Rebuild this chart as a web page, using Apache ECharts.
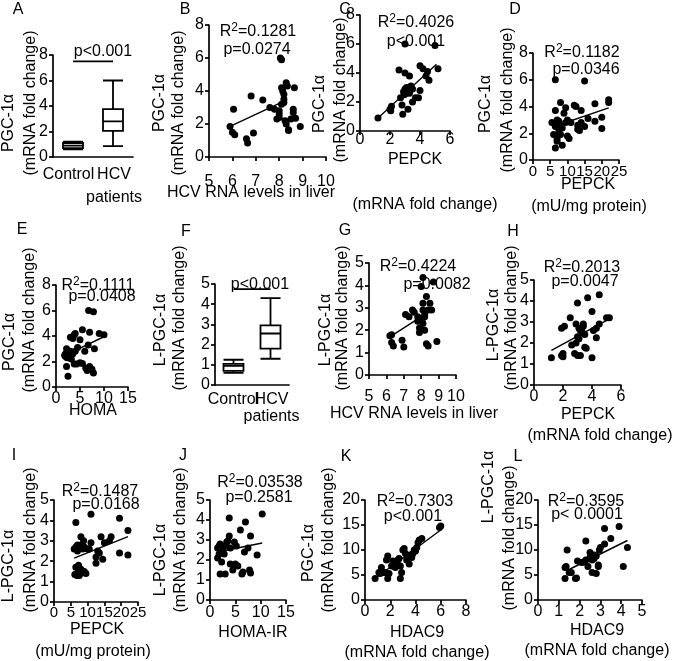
<!DOCTYPE html>
<html><head><meta charset="utf-8">
<script src="https://cdn.jsdelivr.net/npm/echarts@6/dist/echarts.min.js"></script>
<style>html,body{margin:0;padding:0;background:#fff}#c{width:675px;height:661px}</style>
</head><body><div id="c"></div>
<script>
// ---------------- data ----------------
const boxCategories = ['Control', 'HCV\npatients'];
const boxA = [[0.6, 0.7, 0.9, 1.1, 1.2], [0.85, 2.05, 2.8, 3.75, 6.0]];
const boxF = [[0.6, 0.7, 0.95, 1.05, 1.25], [1.3, 1.8, 2.55, 2.95, 4.3]];
const sigA = [7.5, 7.5];
const sigF = [4.75, 4.75];

const bX = [5.9,6.05,6.0,6.1,6.6,6.65,6.9,6.8,7.3,7.6,7.8,7.9,8.0,8.0,8.0,8.1,8.05,8.1,8.1,8.15,8.2,8.3,8.35,8.2,8.2,8.25,8.3,8.4,8.4,8.5,8.6,8.6,8.65,8.7,8.9];
const bY = [1.85,2.9,1.5,1.35,1.1,0.85,1.45,3.7,3.45,3.0,2.9,2.3,2.6,2.4,2.8,3.2,6.0,5.9,4.2,4.0,3.8,4.5,4.3,3.5,3.3,2.2,2.0,1.65,1.6,2.3,2.7,2.9,4.2,2.35,1.85];
const fitBX = [5.9, 8.3], fitBY = [1.85, 3.45];

const cX = [1.2,2.0,2.05,2.1,2.6,2.7,2.8,2.85,2.9,2.95,3.0,3.0,3.0,3.1,3.2,3.2,3.3,3.3,3.4,3.5,3.5,3.7,3.9,4.0,4.0,4.2,4.4,4.5,4.6,5.0,5.2,3.3,3.1];
const cY = [0.9,1.5,1.4,1.7,4.2,2.3,1.8,1.15,2.7,2.5,2.9,6.0,4.0,3.0,2.8,1.5,2.6,3.8,3.1,2.9,2.0,2.3,2.3,4.5,2.8,4.3,3.8,4.1,3.5,5.9,4.3,3.0,2.6];
const fitCX = [1.2, 5.1], fitCY = [0.9, 4.6];

const dX = [6.5,6.5,5.5,6,6.5,7,7,7,7.5,7.5,8,8,8,8.5,8.5,9,9.5,9.5,10,10,10.5,11,12,12.5,13,13,13.5,14,14,15,15,16,18,18,20,20,22,22,6.5,7.5];
const dY = [6.0,3.7,2.8,1.9,0.9,3.0,1.6,1.4,2.9,2.3,4.3,2.6,1.9,2.4,1.1,3.5,3.9,2.8,3.0,1.8,1.6,2.8,4.1,4.0,2.3,2.6,2.2,3.7,2.8,5.9,2.5,3.1,4.2,2.9,3.2,2.35,4.5,4.3,2.5,2.0];
const fitDX = [5.5, 22], fitDY = [2.45, 3.9];

const eX = [2,2,2.2,2.2,2.5,2.5,2.7,3,3,3,3.2,3.5,3.5,3.8,3.8,4,4,4.3,4.5,5,5,5.5,5.5,6,6.2,6.5,6.7,6.8,7,7,7.5,7.8,7.8,8,9,10,1.8,2.3,2.8];
const eY = [2.6,2.4,3.0,1.6,0.85,2.7,2.3,2.8,2.5,3.9,2.2,3.8,2.6,4.1,1.8,4.2,2.8,1.8,3.1,3.7,1.9,4.5,1.85,2.8,1.5,1.3,3.3,6.0,4.3,1.6,1.4,1.1,5.9,3.0,4.2,4.1,2.5,2.3,2.5];
const fitEX = [2, 10.3], fitEY = [2.5, 4.0];

const gX = [6.2,6.3,6.3,6.4,6.9,7.0,7.1,7.3,7.5,7.6,7.8,7.8,7.9,7.9,8.0,8.0,8.1,8.1,8.1,8.1,8.2,8.2,8.3,8.3,8.4,8.4,8.5,8.6,8.7,8.9,8.2,8.05];
const gY = [1.75,1.8,1.45,1.3,1.55,1.25,2.7,2.6,2.9,2.8,2.6,2.4,2.1,1.9,3.95,2.5,4.35,3.2,2.9,2.3,2.0,2.7,1.4,3.5,1.3,2.9,3.2,2.9,4.15,1.5,2.6,2.45];
const fitGX = [6.2, 8.7], fitGY = [1.7, 2.95];

const hX = [1.2,1.9,2.0,1.9,2.1,2.0,2.5,2.6,2.8,2.9,2.9,3.0,3.0,3.0,3.1,3.2,3.2,3.3,3.4,3.4,3.5,3.5,3.6,3.7,4.0,4.0,4.1,4.3,4.3,4.5,4.5,5.0,5.2,3.1,3.3];
const hY = [1.3,1.4,1.5,2.7,2.8,1.35,3.2,1.9,1.5,2.0,2.9,2.3,3.9,1.4,2.7,1.4,2.6,2.5,2.9,2.8,2.4,1.8,1.75,4.15,3.5,1.3,2.6,2.7,2.25,4.3,2.9,3.2,3.2,2.2,2.55];
const fitHX = [1.2, 5.2], fitHY = [1.65, 3.15];

const iX = [6,6.5,6.5,6.5,6.8,7,7,7,7.3,7.5,7.5,7.8,8,8,8,8.5,8.8,9,9.5,10,10.5,11,11,12.5,12.5,13,13.5,14,14.5,15,16.5,17,19.5,19.5,22,22,6.2,7.2,9];
const iY = [2.6,3.9,2.7,1.7,1.3,2.8,2.5,1.4,1.8,1.5,1.3,1.4,3.2,2.8,1.6,2.6,3.0,2.7,1.4,2.6,2.6,2.9,4.3,2.2,1.9,2.5,2.4,3.2,2.1,2.9,3.0,3.2,4.1,2.4,3.5,2.3,1.35,1.35,1.5];
const fitIX = [6, 22], fitIY = [2.15, 3.2];

const jX = [1.5,1.5,1.8,2,2,2,2.3,2.5,2.5,2.8,3,3,3.3,3.5,3.8,3.8,4,4,4.5,4.8,5,5.2,5.5,6,6.3,6.5,6.8,7,7.5,7.8,8,8,9.3,10.3,2.2,1.8];
const jY = [2.6,2.1,2.7,2.8,2.5,1.3,1.9,2.6,2.4,2.3,2.7,1.3,2.9,2.95,4.1,3.2,1.8,2.6,1.5,2.9,1.8,2.7,1.7,3.5,1.3,1.4,2.4,3.9,2.6,1.5,1.35,3.2,2.25,4.3,2.4,2.3];
const fitJX = [1.5, 10.3], fitJY = [2.4, 2.85];

const kX = [0.8,1.1,1.3,1.5,1.6,1.7,1.8,1.8,1.9,2.1,2.2,2.4,2.5,2.6,2.7,2.8,2.8,2.9,3.0,3.1,3.2,3.3,3.5,3.7,3.8,3.9,4.0,4.1,4.2,4.3,4.5,5.9,6.0,1.2,2.3,3.6];
const kY = [4.3,5.5,6.5,5.5,5.5,8.0,8.8,4.3,5.3,6.8,7.8,6.5,7.2,8.0,8.3,6.8,4.3,5.5,10.0,10.3,9.3,8.0,7.2,8.5,9.3,10.0,9.8,10.5,11.5,12.0,12.3,14.5,14.8,5.3,7.5,9.0];
const fitKX = [0.8, 6.0], fitKY = [4.3, 14.0];

const lX = [1.3,1.3,1.35,1.4,1.6,1.5,1.8,1.85,1.9,2.1,2.3,2.3,2.4,2.5,2.5,2.6,2.6,2.7,2.7,2.8,2.8,2.9,2.9,2.95,3.0,3.2,3.2,3.5,3.9,4.1,4.3,2.65,2.2];
const lY = [4.3,6.5,6.7,10.0,5.5,5.5,4.3,4.4,7.8,7.5,11.8,8.0,6.7,9.5,8.5,5.5,8.0,9.0,8.3,5.3,8.8,7.0,6.7,10.0,10.5,14.3,11.2,12.3,14.7,6.7,10.5,8.6,7.6];
const fitLX = [1.35, 4.3], fitLY = [5.8, 11.9];

// ---------------- layout ----------------
const FONT = "'Liberation Sans', Arial, Helvetica, sans-serif";
const BLACK = '#000';

const grids = [
  {left: 53, top: 55, width: 80, height: 102},   // A
  {left: 209, top: 25, width: 117, height: 132}, // B
  {left: 360, top: 15, width: 90, height: 116},  // C
  {left: 533, top: 53, width: 86, height: 107},  // D
  {left: 56, top: 285, width: 72, height: 102},  // E
  {left: 215, top: 284, width: 74, height: 101}, // F
  {left: 369, top: 263, width: 87, height: 112}, // G
  {left: 534, top: 280, width: 87, height: 105}, // H
  {left: 54, top: 500, width: 84, height: 102},  // I
  {left: 210, top: 500, width: 76, height: 100}, // J
  {left: 365, top: 500, width: 101, height: 100},// K
  {left: 538, top: 500, width: 104, height: 100} // L
].map(g => Object.assign({containLabel: false, outerBoundsMode: 'none', show: false}, g));

const axisLine = {show: true, onZero: false, lineStyle: {color: BLACK, width: 1.7}};
const axisTick = {show: true, inside: false, length: 4, lineStyle: {color: BLACK, width: 1.7}};
function lab(margin, extra) {
  return Object.assign({color: BLACK, fontSize: 16, fontFamily: FONT, margin: margin,
    showMinLabel: true, showMaxLabel: true, hideOverlap: false}, extra || {});
}
function vx(gi, min, max, interval, margin, fs) {
  return {type: 'value', gridIndex: gi, min, max, interval, axisLine, axisTick,
    axisLabel: lab(margin, fs ? {fontSize: fs} : null), splitLine: {show: false}};
}
function vy(gi, min, max, interval) {
  return {type: 'value', gridIndex: gi, min, max, interval, axisLine, axisTick,
    axisLabel: lab(5), splitLine: {show: false}};
}
function cx(gi, margin, lh, shifts) {
  const data = boxCategories.map((c, i) => ({value: c, textStyle: {padding: shifts[i]}}));
  return {type: 'category', gridIndex: gi, data: data, boundaryGap: true,
    axisLine, axisTick: {show: false}, axisLabel: lab(margin, {lineHeight: lh, interval: 0}),
    splitLine: {show: false}};
}

const xAxes = [
  cx(0, 6, 23, [[0, 9, 0, 0], [0, 0, 0, 2]]),
  vx(1, 5, 10, 1, 17),
  vx(2, 0, 6, 2, 1),
  vx(3, 0, 25, 5, 4, 15),
  vx(4, 0, 15, 5, 4),
  cx(5, 6, 17, [[0, 0, 0, 0], [0, 0, 0, 2]]),
  vx(6, 5, 10, 1, 14),
  vx(7, 0, 6, 2, 4),
  vx(8, 0, 25, 5, 3, 15),
  vx(9, 0, 15, 5, 5),
  vx(10, 0, 8, 2, 4),
  vx(11, 0, 5, 1, 4)
];
const yAxes = [
  vy(0, 0, 8, 2), vy(1, 0, 8, 2), vy(2, 0, 8, 2), vy(3, 0, 8, 2),
  vy(4, 0, 8, 2), vy(5, 0, 5, 1), vy(6, 0, 5, 1), vy(7, 0, 5, 1),
  vy(8, 0, 5, 1), vy(9, 0, 5, 1), vy(10, 0, 20, 5), vy(11, 0, 20, 5)
];

function zip(a, b) { return a.map((v, i) => [v, b[i]]); }
function scatter(gi, xs, ys) {
  return {type: 'scatter', xAxisIndex: gi, yAxisIndex: gi, data: zip(xs, ys),
    symbol: 'circle', symbolSize: 7, itemStyle: {color: BLACK, opacity: 1}, silent: true};
}
function fit(gi, xs, ys) {
  return {type: 'line', xAxisIndex: gi, yAxisIndex: gi, data: zip(xs, ys),
    symbol: 'none', lineStyle: {color: BLACK, width: 1.4}, silent: true, z: 3};
}
function box(gi, data) {
  return {type: 'boxplot', xAxisIndex: gi, yAxisIndex: gi, data: data, boxWidth: [20, 20],
    itemStyle: {color: '#fff', borderColor: BLACK, borderWidth: 1.8}, silent: true};
}
function sig(gi, data) {
  return {type: 'line', xAxisIndex: gi, yAxisIndex: gi, data: data, symbol: 'none',
    lineStyle: {color: BLACK, width: 1.8}, silent: true};
}

const series = [
  box(0, boxA), sig(0, sigA),
  scatter(1, bX, bY), fit(1, fitBX, fitBY),
  scatter(2, cX, cY), fit(2, fitCX, fitCY),
  scatter(3, dX, dY), fit(3, fitDX, fitDY),
  scatter(4, eX, eY), fit(4, fitEX, fitEY),
  box(5, boxF), sig(5, sigF),
  scatter(6, gX, gY), fit(6, fitGX, fitGY),
  scatter(7, hX, hY), fit(7, fitHX, fitHY),
  scatter(8, iX, iY), fit(8, fitIX, fitIY),
  scatter(9, jX, jY), fit(9, fitJX, fitJY),
  scatter(10, kX, kY), fit(10, fitKX, fitKY),
  scatter(11, lX, lY), fit(11, fitLX, fitLY)
];

// ---------------- text ----------------
function T(x, y, s, rot, rich) {
  const st = {text: s, fontSize: 16, fontFamily: FONT, fill: BLACK,
    align: 'center', verticalAlign: 'middle', textAlign: 'center', textVerticalAlign: 'middle'};
  if (rich) st.rich = rich;
  return {type: 'text', x: x, y: y, rotation: rot || 0, style: st, silent: true, z: 10};
}
const R2rich = {
  a: {fontSize: 16, fontFamily: FONT, color: BLACK},
  s: {fontSize: 12, fontFamily: FONT, color: BLACK, padding: [0, 0, 9, 0]}
};
function R2(x, y, v) { return T(x, y, '{a|R}{s|2}{a|=' + v + '}', 0, R2rich); }
const V = Math.PI / 2;

const texts = [
  // panel letters
  T(18, 10, 'A'), T(185, 10, 'B'), T(345, 10, 'C'), T(515, 10, 'D'),
  T(22, 230, 'E'), T(186, 232, 'F'), T(345, 231, 'G'), T(513, 232, 'H'),
  T(14, 456, 'I'), T(183, 456, 'J'), T(346, 457, 'K'), T(518, 457, 'L'),
  // y titles
  T(9, 123, 'PGC-1α', V), T(31, 103, '(mRNA fold change)', V),
  T(160, 103, 'PGC-1α', V), T(179, 103, '(mRNA fold change)', V),
  T(320, 104, 'PGC-1α', V), T(341, 90, '(mRNA fold change)', V),
  T(486, 104, 'PGC-1α', V), T(508, 100, '(mRNA fold change)', V),
  T(10, 342, 'PGC-1α', V), T(30, 320, '(mRNA fold change)', V),
  T(161, 330, 'L-PGC-1α', V), T(180, 318, '(mRNA fold change)', V),
  T(326, 330, 'L-PGC-1α', V), T(343, 318, '(mRNA fold change)', V),
  T(494, 325, 'L-PGC-1α', V), T(512, 318, '(mRNA fold change)', V),
  T(9, 566, 'L-PGC-1α', V), T(31, 540, '(mRNA fold change)', V),
  T(161, 560, 'L-PGC-1α', V), T(181, 540, '(mRNA fold change)', V),
  T(309, 553, 'PGC-1α', V), T(329, 540, '(mRNA fold change)', V),
  T(489, 487, 'L-PGC-1α', V), T(510, 538, '(mRNA fold change)', V),
  // x titles
  T(251, 193, 'HCV RNA levels in liver'),
  T(415, 160, 'PEPCK'), T(425, 205, '(mRNA fold change)'),
  T(588, 185, 'PEPCK'), T(589, 207, '(mU/mg protein)'),
  T(93, 411, 'HOMA'),
  T(414, 414, 'HCV RNA levels in liver'),
  T(588, 415, 'PEPCK'), T(600, 436, '(mRNA fold change)'),
  T(97, 630, 'PEPCK'), T(93, 652, '(mU/mg protein)'),
  T(253, 633, 'HOMA-IR'),
  T(417, 633, 'HDAC9'), T(417, 653, '(mRNA fold change)'),
  T(597, 631, 'HDAC9'), T(597, 651, '(mRNA fold change)'),
  // statistics
  T(103, 52, 'p<0.001'), T(260, 285, 'p<0.001'),
  R2(258, 32, '0.1281'), T(257, 50, 'p=0.0274'),
  R2(416, 23, '0.4026'), T(416, 42, 'p<0.001'),
  R2(582, 53, '0.1182'), T(586, 70, 'p=0.0346'),
  R2(98, 286, '0.1111'), T(102, 297, 'p=0.0408'),
  R2(418, 267, '0.4224'), T(437, 285, 'p=0.0082'),
  R2(582, 268, '0.2013'), T(585, 282, 'p=0.0047'),
  R2(100, 492, '0.1487'), T(106, 505, 'p=0.0168'),
  R2(260, 483, '0.03538'), T(259, 498, 'p=0.2581'),
  R2(415, 502, '0.7303'), T(413, 517, 'p<0.001'),
  R2(586, 502, '0.3595'), T(587, 515, 'p< 0.0001')
];

const chart = echarts.init(document.getElementById('c'), null, {renderer: 'canvas'});
chart.setOption({
  animation: false,
  backgroundColor: '#fff',
  textStyle: {fontFamily: FONT, color: BLACK},
  grid: grids,
  xAxis: xAxes,
  yAxis: yAxes,
  series: series,
  graphic: texts
});
</script>
</body></html>
